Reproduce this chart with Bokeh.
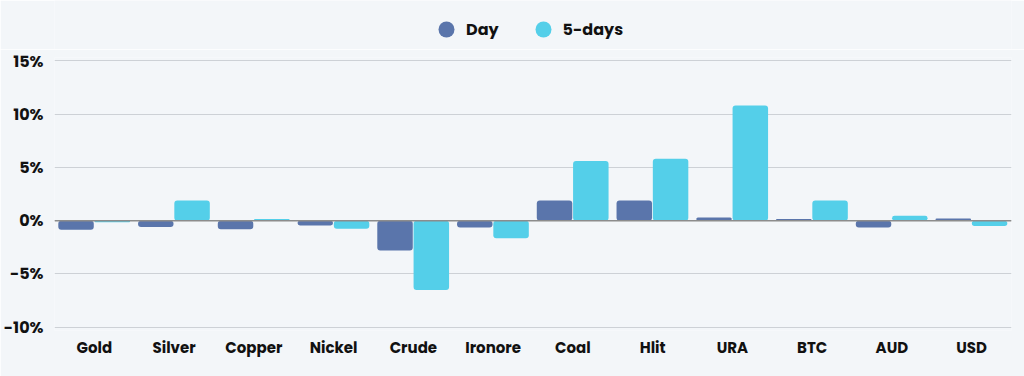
from bokeh.plotting import figure
from bokeh.layouts import column
from bokeh.models import ColumnDataSource, FactorRange, Range1d, FixedTicker, Span, Legend, LegendItem
from bokeh.transform import dodge
from bokeh.embed import file_html
from bokeh.resources import INLINE

categories = ["Gold", "Silver", "Copper", "Nickel", "Crude", "Ironore", "Coal", "Hlit", "URA", "BTC", "AUD", "USD"]
day = [-0.85, -0.6, -0.8, -0.45, -2.8, -0.65, 1.9, 1.9, 0.3, 0.15, -0.65, 0.2]
five_days = [-0.15, 1.9, 0.15, -0.75, -6.5, -1.65, 5.6, 5.8, 10.8, 1.9, 0.45, -0.5]
y_ticks = [-10, -5, 0, 5, 10, 15]
y_tick_labels = ["-10%", "-5%", "0%", "5%", "10%", "15%"]
series_names = ["Day", "5-days"]

DAY_C = "#5a75ab"
FIVE_C = "#54cfe9"
BG = "#f3f6f9"
FONT = "Poppins, Inter"

src = ColumnDataSource(dict(cat=categories, day=day, five=five_days))

# ---- legend strip ----
lg = figure(width=1024, height=49, x_range=Range1d(0, 1), y_range=Range1d(0, 1),
            output_backend="svg", toolbar_location=None,
            min_border_left=0, min_border_right=0, min_border_top=0, min_border_bottom=0,
            background_fill_color=BG, border_fill_color=BG)
lg.outline_line_color = None
lg.axis.visible = False
lg.grid.visible = False
lg_day = lg.scatter([-5], [-5], marker="circle", size=16, fill_color=DAY_C, line_color=None)
lg_five = lg.scatter([-5], [-5], marker="circle", size=16, fill_color=FIVE_C, line_color=None)
legend = Legend(items=[LegendItem(label=series_names[0], renderers=[lg_day]),
                       LegendItem(label=series_names[1], renderers=[lg_five])],
                orientation="horizontal", location=(372, 0),
                background_fill_alpha=0, border_line_color=None,
                label_text_font=FONT, label_text_font_style="bold", label_text_font_size="16px",
                label_text_color="#111111", glyph_width=40, glyph_height=40,
                label_standoff=-10, spacing=24, padding=0, margin=0)
lg.add_layout(legend, "center")

# ---- main chart ----
p = figure(
    x_range=FactorRange(*categories, range_padding=0),
    y_range=Range1d(-10.3, 15.3),
    width=1024, height=327,
    output_backend="svg", toolbar_location=None,
    min_border_left=48, min_border_right=13, min_border_top=8, min_border_bottom=46,
    background_fill_color=BG, border_fill_color=BG,
)
p.outline_line_color = None

p.vbar(x=dodge("cat", -0.23, range=p.x_range), top="day", bottom=0, width=0.445,
       source=src, fill_color=DAY_C, line_color=None, border_radius=3)
p.vbar(x=dodge("cat", 0.225, range=p.x_range), top="five", bottom=0, width=0.445,
       source=src, fill_color=FIVE_C, line_color=None, border_radius=3)

p.add_layout(Span(location=0, dimension="width", line_color="#8c8c8c", line_width=1.5))

p.yaxis.ticker = FixedTicker(ticks=y_ticks)
p.yaxis.major_label_overrides = dict(zip(y_ticks, y_tick_labels))
for ax in (p.xaxis, p.yaxis):
    ax.axis_line_color = None
    ax.major_tick_line_color = None
    ax.minor_tick_line_color = None
    ax.major_label_text_font = FONT
    ax.major_label_text_font_style = "bold"
    ax.major_label_text_color = "#111111"
p.xaxis.major_label_text_font_size = "15px"
p.yaxis.major_label_text_font_size = "16px"
p.yaxis.major_label_standoff = 5
p.xaxis.major_label_standoff = 0

p.xgrid.grid_line_color = None
p.ygrid.grid_line_color = "#cdd1d6"
p.ygrid.grid_line_width = 1

layout = column(lg, p, spacing=0)
open("out.html", "w").write(file_html(layout, INLINE))
